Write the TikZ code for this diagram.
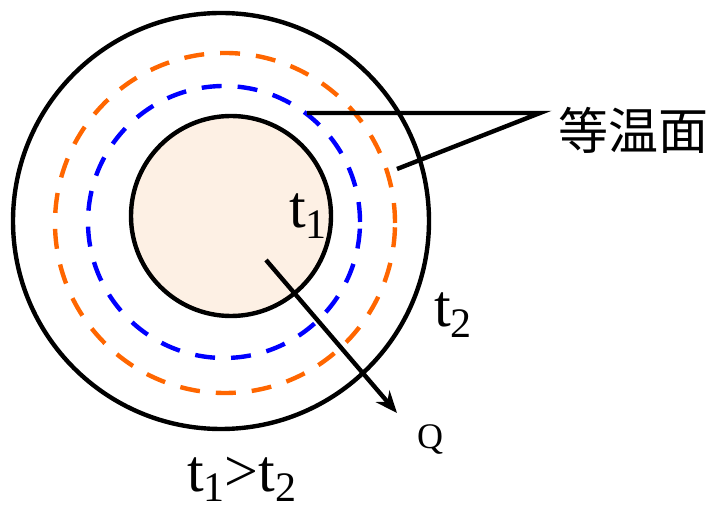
\documentclass[tikz,border=0pt]{standalone}
\usepackage{fontspec}
\setmainfont{Liberation Serif}
\newfontfamily\cjk{Noto Sans CJK SC}
\usepackage{tikz}
\usetikzlibrary{arrows.meta,positioning,calc}
\definecolor{corefill}{RGB}{253,240,228}
\definecolor{isoorange}{RGB}{255,102,0}
\definecolor{isoblue}{RGB}{0,0,255}
\newcommand{\tsb}[1]{t\raisebox{-0.18em}{\fontsize{42}{42}\selectfont #1}}
\begin{document}
\begin{tikzpicture}[x=1pt,y=1pt,>={Stealth[length=22pt,width=18pt]},line width=4.4pt,
  iso/.style={dash pattern=on 20pt off 16pt},
  lbl/.style={inner sep=0pt,font=\fontsize{60}{60}\selectfont}]
  \useasboundingbox (0,0) rectangle (714,511);
  % circles
  \draw (221,290) circle (208);
  \draw[iso,isoorange] (225,288) circle (170);
  \draw[iso,isoblue] (224,289) circle (136);
  \draw[fill=corefill] (231,295) circle (100);
  % labels
  \node[lbl,anchor=base west] (t1) at (287,283) {\tsb{1}};
  \node[lbl,anchor=base west] (t2) at (432,184) {\tsb{2}};
  \node[lbl,anchor=base west] (rel) at (185,20) {\tsb{1}>\tsb{2}};
  \node[inner sep=0pt,font=\cjk\fontsize{50}{50}\selectfont] (iso) at (633,381) {等温面};
  \node[inner sep=0pt,font=\fontsize{36}{36}\selectfont] (q) at (430,72) {Q};
  % leader lines and heat flow
  \coordinate (blue) at (307,398);
  \coordinate (knee) at (540,398);
  \coordinate (orange) at (397,342);
  \draw (blue)--(knee)--(orange);
  \coordinate (qs) at (266,251);
  \coordinate (qe) at (397,98);
  \draw[->] (qs)--(qe);
\end{tikzpicture}
\end{document}
